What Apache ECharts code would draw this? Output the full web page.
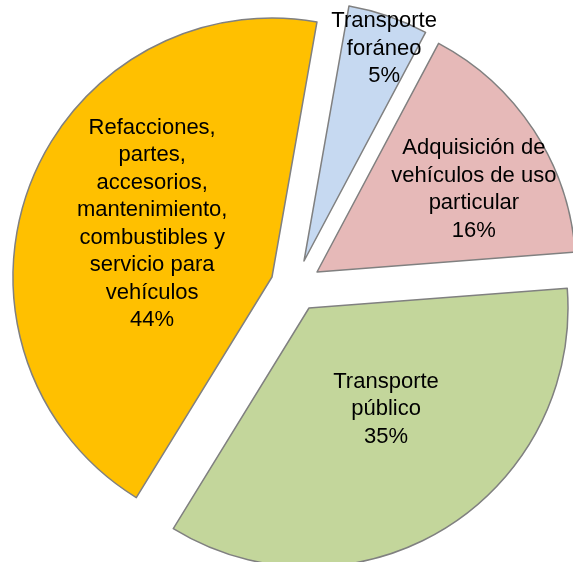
<!DOCTYPE html>
<html>
<head>
<meta charset="utf-8">
<script src="https://cdn.jsdelivr.net/npm/echarts@6/dist/echarts.min.js"></script>
<style>
  html, body { margin: 0; padding: 0; background: #fff; }
  #main { width: 573px; height: 562px; }
</style>
</head>
<body>
<div id="main"></div>
<script>
// data (clockwise from the top)
var names = ['Transporte foráneo', 'Adquisición de vehículos de uso particular', 'Transporte público',
  'Refacciones, partes, accesorios, mantenimiento, combustibles y servicio para vehículos'];
var labelText = ['Transporte\nforáneo', 'Adquisición de\nvehículos de uso\nparticular', 'Transporte\npúblico',
  'Refacciones,\npartes,\naccesorios,\nmantenimiento,\ncombustibles y\nservicio para\nvehículos'];
var values = [5, 16, 35, 44];
var colors = ['#c6d9f1', '#e6b9b8', '#c3d69b', '#ffc000'];

// each slice is pulled out on its own, so one pie per slice
var centers = [[304, 261], [317, 272], [309, 308], [272, 277]];
var labelShift = [[37, -87], [46, -10], [8, -12], [4, -6]];

var myChart = echarts.init(document.getElementById('main'));
var series = [];
values.forEach(function (v, i) {
  series.push({
    type: 'pie',
    silent: true,
    radius: 259,
    center: centers[i],
    startAngle: 80,
    avoidLabelOverlap: false,
    emphasis: { disabled: true },
    label: {
      position: 'inside',
      color: '#000',
      fontFamily: 'Liberation Sans',
      fontSize: 22,
      lineHeight: 27.5,
      align: 'center',
      formatter: function (p) {
        return labelText[p.dataIndex] + '\n' + p.value + '%';
      }
    },
    labelLine: { show: false },
    labelLayout: { dx: labelShift[i][0], dy: labelShift[i][1] },
    data: values.map(function (val, j) {
      return {
        name: names[j],
        value: val,
        itemStyle: j === i
          ? { color: colors[j], borderColor: '#808080', borderWidth: 1.5 }
          : { color: 'rgba(0,0,0,0)', borderWidth: 0 },
        label: { show: j === i }
      };
    })
  });
});

var option = {
  animation: false,
  series: series
};
myChart.setOption(option);
</script>
</body>
</html>
